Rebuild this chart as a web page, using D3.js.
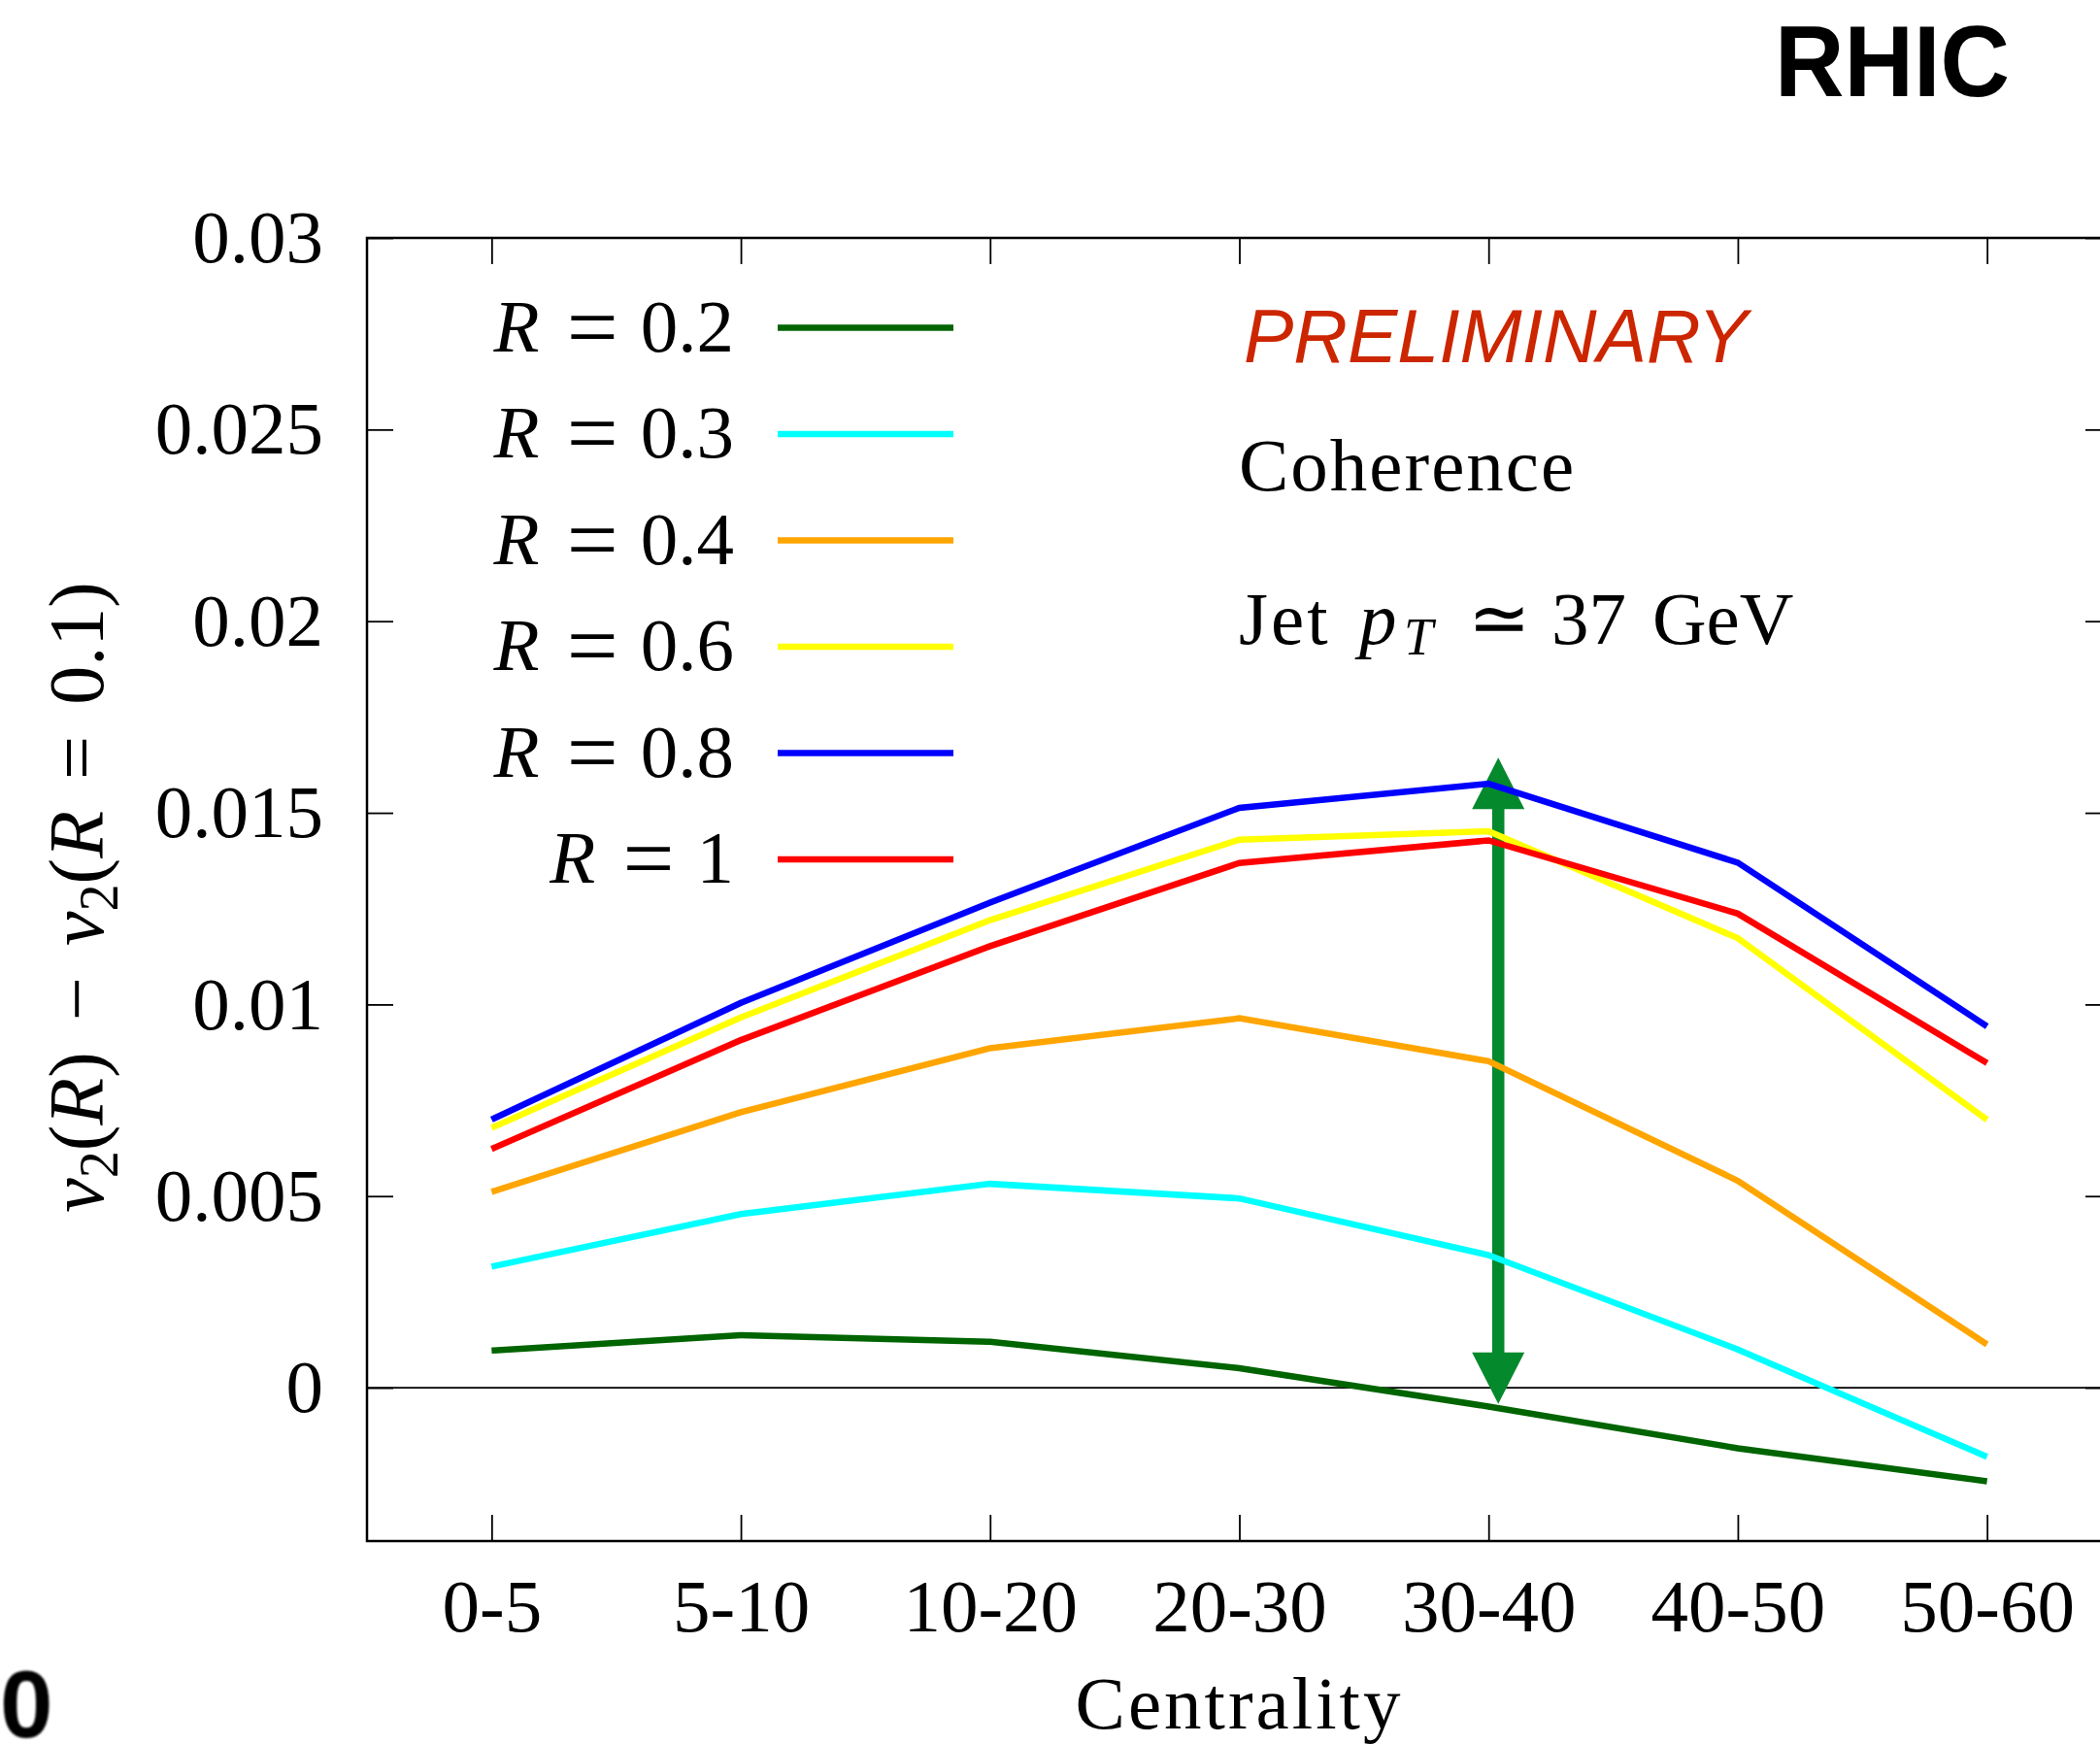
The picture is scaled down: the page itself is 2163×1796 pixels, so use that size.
<!DOCTYPE html>
<html>
<head>
<meta charset="utf-8">
<script src="https://cdn.jsdelivr.net/npm/d3@7"></script>
<style>
  body { margin: 0; background: #fff; }
  svg { display: block; background: #fff; }
  .serif { font-family: "Liberation Serif", "Times New Roman", serif; fill: #000; }
  .axis .tick text { font-family: "Liberation Serif", "Times New Roman", serif; font-size: 77px; fill: #000; }
  .axis .tick line { stroke: #000; stroke-width: 1.8px; }
</style>
</head>
<body>
<svg id="chart" width="2163" height="1796"></svg>
<script>
// centrality bins and jet radii
const centralities = ["0-5", "5-10", "10-20", "20-30", "30-40", "40-50", "50-60"];
const radii = ["0.2", "0.3", "0.4", "0.6", "0.8", "1"];
const radiusColors = ["#006400", "#00ffff", "#ffa500", "#ffff00", "#0000ff", "#ff0000"];

// v2(R) - v2(R=0.1) per centrality bin
const v2R02 = [0.00097, 0.00137, 0.00120, 0.00051, -0.00049, -0.00158, -0.00244];
const v2R03 = [0.00316, 0.00453, 0.00532, 0.00494, 0.00346, 0.00100, -0.00180];
const v2R04 = [0.00511, 0.00719, 0.00886, 0.00964, 0.00852, 0.00540, 0.00113];
const v2R06 = [0.00678, 0.00966, 0.01220, 0.01430, 0.01452, 0.01173, 0.00699];
const v2R08 = [0.00700, 0.01004, 0.01266, 0.01513, 0.01576, 0.01370, 0.00943];
const v2R10 = [0.00623, 0.00907, 0.01152, 0.01369, 0.01428, 0.01237, 0.00847];
const seriesValues = [v2R02, v2R03, v2R04, v2R06, v2R08, v2R10];

const yTickValues = [0, 0.005, 0.01, 0.015, 0.02, 0.025, 0.03];
const yTickLabels = ["0", "0.005", "0.01", "0.015", "0.02", "0.025", "0.03"];

// double arrow spanning R=0.2 .. R=0.8 in the 30-40 bin
const arrowBin = "30-40";
const arrowRange = [-0.00042, 0.01644];

/** Class drawing the v2 difference vs centrality plot. */
class CentralityPlot {
    constructor() {
        this.svg = d3.select('#chart');
        this.left = 378;
        this.right = 2175;
        this.top = 245;
        this.bottom = 1587;
        this.x = d3.scalePoint().domain(centralities).range([this.left, this.right]).padding(0.5);
        this.y = d3.scaleLinear().domain([-0.004, 0.03]).range([this.bottom, this.top]);
    }

    /**
     * Frame, ticks on all four sides and the zero line
     */
    drawAxes() {
        const noDomain = g => g.select('.domain').remove();

        this.svg.append('g').attr('class', 'axis')
            .attr('transform', `translate(${this.left},0)`)
            .call(d3.axisLeft(this.y).tickValues(yTickValues)
                .tickFormat((d, i) => yTickLabels[i]).tickSize(-27).tickPadding(45))
            .call(noDomain);

        this.svg.append('g').attr('class', 'axis')
            .attr('transform', `translate(${this.right},0)`)
            .call(d3.axisRight(this.y).tickValues(yTickValues).tickFormat('').tickSize(-27))
            .call(noDomain);

        this.svg.append('g').attr('class', 'axis')
            .attr('transform', `translate(0,${this.bottom})`)
            .call(d3.axisBottom(this.x).tickSize(-27).tickPadding(38))
            .call(noDomain);

        this.svg.append('g').attr('class', 'axis')
            .attr('transform', `translate(0,${this.top})`)
            .call(d3.axisTop(this.x).tickFormat('').tickSize(-27))
            .call(noDomain);

        this.svg.append('rect')
            .attr('x', this.left).attr('y', this.top)
            .attr('width', this.right - this.left).attr('height', this.bottom - this.top)
            .style('fill', 'none').style('stroke', '#000').style('stroke-width', '2.5px');

        this.svg.append('line')
            .attr('x1', this.left).attr('x2', this.right)
            .attr('y1', this.y(0)).attr('y2', this.y(0))
            .style('stroke', '#000').style('stroke-width', '1.6px');
    }

    /**
     * Green double-headed arrow
     */
    drawArrow() {
        const ax = this.x(arrowBin) + 10;
        const yTop = this.y(arrowRange[1]);
        const yBot = this.y(arrowRange[0]);
        const head = 53, half = 27, shaft = 6.3;
        const pts = [
            [ax, yTop], [ax + half, yTop + head], [ax + shaft, yTop + head],
            [ax + shaft, yBot - head], [ax + half, yBot - head], [ax, yBot],
            [ax - half, yBot - head], [ax - shaft, yBot - head],
            [ax - shaft, yTop + head], [ax - half, yTop + head]
        ];
        this.svg.append('path')
            .attr('d', 'M' + pts.map(p => p.join(',')).join('L') + 'Z')
            .style('fill', '#05892d');
    }

    /**
     * One polyline per jet radius
     */
    drawLines() {
        const line = d3.line()
            .x((d, i) => this.x(centralities[i]))
            .y(d => this.y(d));

        this.svg.append('g').selectAll('path')
            .data(seriesValues)
            .enter()
            .append('path')
            .attr('d', line)
            .style('fill', 'none')
            .style('stroke', (d, i) => radiusColors[i])
            .style('stroke-width', '6.5px')
            .style('stroke-linejoin', 'miter');
    }

    drawLegend() {
        const rows = this.svg.append('g').selectAll('g')
            .data(radii)
            .enter()
            .append('g')
            .attr('transform', (d, i) => `translate(0,${337.5 + i * 109.5})`);

        rows.append('line')
            .attr('x1', 801).attr('x2', 982)
            .style('stroke', (d, i) => radiusColors[i])
            .style('stroke-width', '6.5px');

        const label = rows.append('text')
            .attr('class', 'serif')
            .attr('x', 756).attr('y', 24)
            .attr('text-anchor', 'end')
            .style('font-size', '77px');
        label.append('tspan').style('font-style', 'italic').text('R');
        label.append('tspan').attr('dx', '0.3em').style('font-size', '94px').attr('dy', 6).text('=');
        label.append('tspan').attr('dx', '0.3em').attr('dy', -6).text(d => d);
    }

    drawLabels() {
        // y title: v2(R) - v2(R = 0.1)
        const yTitle = this.svg.append('text')
            .attr('class', 'serif')
            .attr('transform', 'translate(106,924) rotate(-90)')
            .attr('text-anchor', 'middle')
            .style('font-size', '80px');
        const parts = [
            {t: 'v', it: true}, {t: '2', sub: true}, {t: '('}, {t: 'R', it: true}, {t: ')'},
            {t: '\u2212', dx: '0.4em'}, {t: 'v', it: true, dx: '0.4em'}, {t: '2', sub: true},
            {t: '('}, {t: 'R', it: true}, {t: '=', dx: '0.4em'}, {t: '0.1', dx: '0.4em'}, {t: ')'}
        ];
        let shifted = 0;
        parts.forEach(p => {
            const ts = yTitle.append('tspan').text(p.t);
            let dy = 0;
            if (p.sub) { dy = 15; ts.style('font-size', '56px'); }
            dy -= shifted;
            shifted = p.sub ? 15 : 0;
            if (dy) ts.attr('dy', dy);
            if (p.it) ts.style('font-style', 'italic');
            if (p.dx) ts.attr('dx', p.dx);
        });

        this.svg.append('text')
            .attr('class', 'serif')
            .attr('x', (this.left + this.right) / 2).attr('y', 1780)
            .attr('text-anchor', 'middle')
            .style('font-size', '77px').style('letter-spacing', '3px')
            .text('Centrality');

        this.svg.append('text')
            .attr('x', 1281).attr('y', 373)
            .style('font-family', '"Liberation Sans", Arial, sans-serif')
            .style('font-style', 'italic').style('font-size', '77px')
            .style('fill', '#cc2600')
            .text('PRELIMINARY');

        this.svg.append('text')
            .attr('class', 'serif')
            .attr('x', 1276).attr('y', 505)
            .style('font-size', '77px').style('letter-spacing', '2px')
            .text('Coherence');

        const jet = this.svg.append('text')
            .attr('class', 'serif')
            .attr('y', 663)
            .style('font-size', '77px');
        jet.append('tspan').attr('x', 1276).style('letter-spacing', '3px').text('Jet');
        jet.append('tspan').attr('x', 1400).style('font-style', 'italic').text('p');
        jet.append('tspan').attr('x', 1446).attr('dy', 11)
            .style('font-style', 'italic').style('font-size', '54px').text('T');
        jet.append('tspan').attr('x', 1512).attr('dy', -11).text('\u2243');
        jet.append('tspan').attr('x', 1598).text('37');
        jet.append('tspan').attr('x', 1702).text('GeV');

        this.svg.append('text')
            .attr('x', 1828).attr('y', 99)
            .attr('textLength', 242).attr('lengthAdjust', 'spacingAndGlyphs')
            .style('font-family', '"Liberation Sans", Arial, sans-serif')
            .style('font-weight', 'bold').style('font-size', '104px')
            .text('RHIC');

        const defs = this.svg.append('defs');
        defs.append('filter').attr('id', 'soft')
            .append('feGaussianBlur').attr('stdDeviation', 1);

        this.svg.append('text')
            .attr('x', 0).attr('y', 1789)
            .attr('filter', 'url(#soft)')
            .style('font-family', '"Liberation Sans", Arial, sans-serif')
            .style('font-weight', 'bold').style('font-size', '98px')
            .text('0');
    }
}

const plot = new CentralityPlot();
plot.drawAxes();
plot.drawArrow();
plot.drawLines();
plot.drawLegend();
plot.drawLabels();
</script>
</body>
</html>
